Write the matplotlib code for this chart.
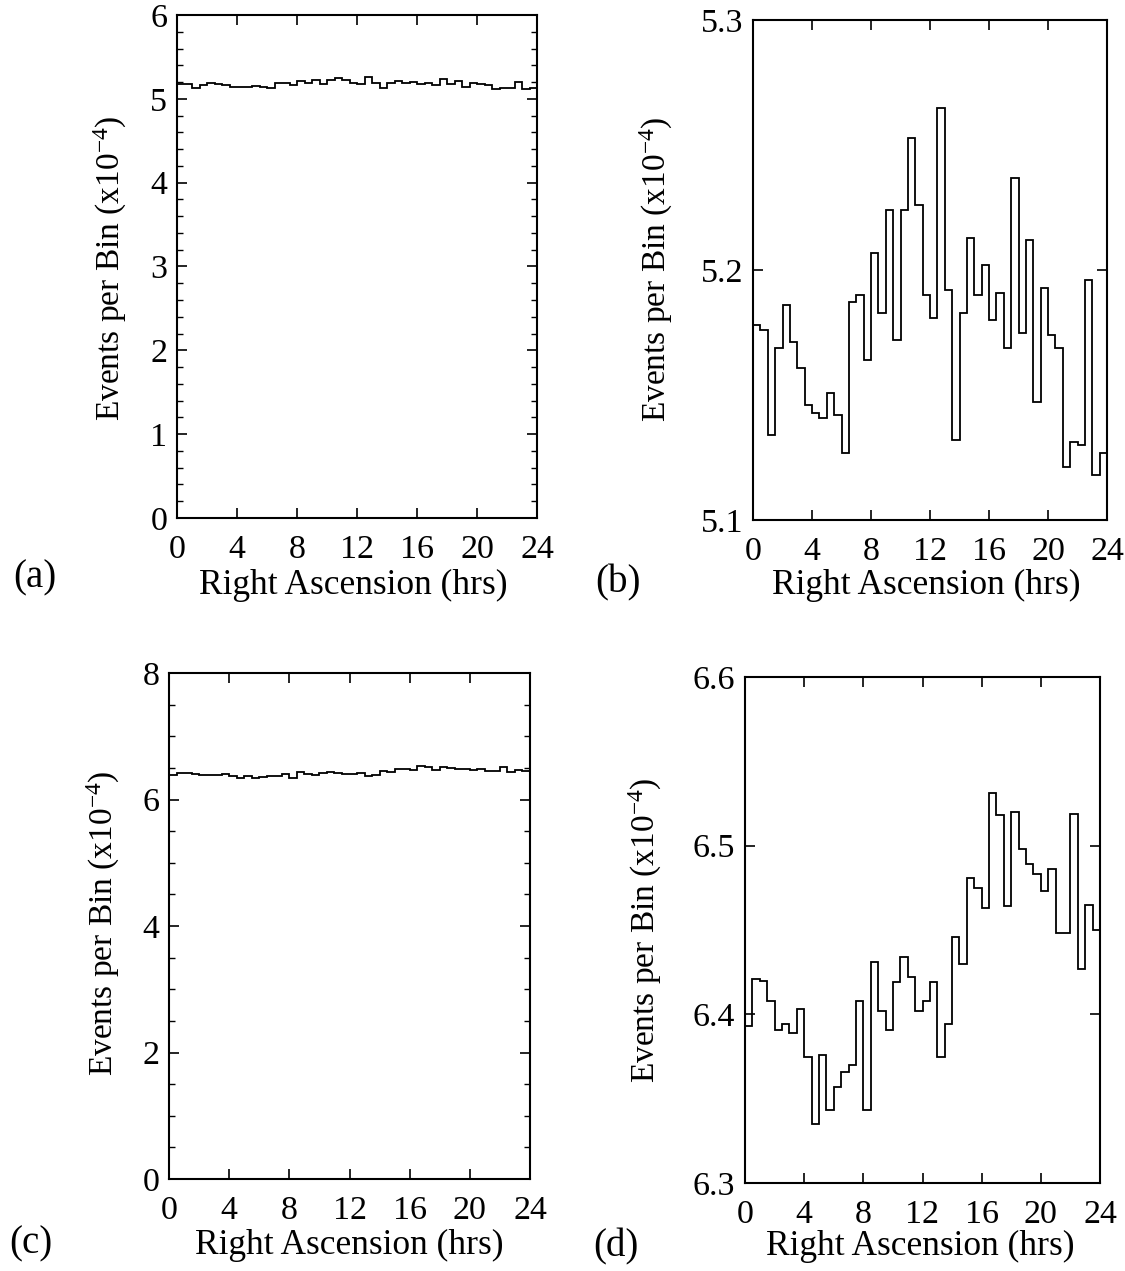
import numpy as np
import matplotlib
matplotlib.use("Agg")
from matplotlib import pyplot as plt
from matplotlib.ticker import MultipleLocator

plt.rcParams['font.family'] = ['Liberation Serif', 'DejaVu Serif']
plt.rcParams['mathtext.fontset'] = 'custom'
plt.rcParams['mathtext.rm'] = 'Liberation Serif'
plt.rcParams['mathtext.it'] = 'Liberation Serif:italic'

# 48 bins of half an hour in right ascension
ra_edges = np.arange(0, 24.5, 0.5)

# events per bin (x1e-4) (b) and (d)
events_ab = [5.178, 5.176, 5.134, 5.169, 5.186, 5.171, 5.161, 5.146, 5.143, 5.141, 5.151, 5.142,
             5.127, 5.187, 5.190, 5.164, 5.207, 5.183, 5.224, 5.172, 5.224, 5.253, 5.226, 5.190,
             5.181, 5.265, 5.192, 5.132, 5.183, 5.213, 5.190, 5.202, 5.180, 5.191, 5.169, 5.237,
             5.175, 5.212, 5.147, 5.193, 5.174, 5.169, 5.121, 5.131, 5.130, 5.196, 5.118, 5.127]
events_cd = [6.393, 6.421, 6.420, 6.408, 6.391, 6.394, 6.389, 6.403, 6.375, 6.335, 6.376, 6.343,
             6.357, 6.366, 6.370, 6.408, 6.343, 6.431, 6.402, 6.391, 6.419, 6.434, 6.422, 6.402,
             6.408, 6.419, 6.375, 6.394, 6.446, 6.430, 6.481, 6.475, 6.463, 6.531, 6.518, 6.464,
             6.520, 6.498, 6.489, 6.483, 6.473, 6.486, 6.448, 6.448, 6.519, 6.427, 6.465, 6.450]

x_ticks = [0, 4, 8, 12, 16, 20, 24]
xlabel = "Right Ascension (hrs)"
ylabel = r"Events per Bin (x10$^{\mathrm{-4}}$)"

W, H = 1125, 1271
fig = plt.figure(figsize=(W / 100, H / 100), dpi=100)


def box(l, r, t, b):
    return [l / W, 1 - b / H, (r - l) / W, (b - t) / H]


def px(x, y):
    return x / W, 1 - y / H


def panel(rect, vals, ylim, ymajor, yminor, yfmt):
    ax = fig.add_axes(rect)
    ax.stairs(vals, ra_edges, color='black', lw=1.3, baseline=None)
    ax.set_xlim(0, 24)
    ax.set_ylim(*ylim)
    ax.set_xticks(x_ticks)
    ax.yaxis.set_major_locator(MultipleLocator(ymajor))
    if yminor:
        ax.yaxis.set_minor_locator(MultipleLocator(yminor))
    ax.yaxis.set_major_formatter(yfmt)
    ax.tick_params(which='both', direction='in', top=True, right=True, labelsize=24.5)
    ax.tick_params(which='major', length=7, width=1.2)
    ax.tick_params(which='minor', length=4, width=1.0)
    ax.tick_params(axis='x', pad=12)
    ax.tick_params(axis='y', pad=7)
    for s in ax.spines.values():
        s.set_linewidth(1.5)
    return ax


panel(box(177, 537, 15, 518), events_ab, (0, 6), 1, 0.2, '{x:.0f}')
panel(box(753, 1107, 20, 520), events_ab, (5.1, 5.3), 0.1, None, '{x:.1f}')
panel(box(169, 530, 673, 1179), events_cd, (0, 8), 2, 0.5, '{x:.0f}')
panel(box(745, 1100, 677, 1183), events_cd, (6.3, 6.6), 0.1, None, '{x:.1f}')

# axis titles and panel letters
for (x, y) in [(353, 585), (926, 585), (349, 1245), (920, 1246)]:
    fig.text(*px(x, y), xlabel, fontsize=25.5, ha='center', va='center')
for (x, y) in [(110, 268), (656, 269), (103, 923), (645, 930)]:
    fig.text(*px(x, y), ylabel, fontsize=24, ha='center', va='center', rotation=90)
for lab, (x, y) in zip(['(a)', '(b)', '(c)', '(d)'],
                       [(35, 578), (618, 583), (31, 1244), (616, 1247)]):
    fig.text(*px(x, y), lab, fontsize=28, ha='center', va='center')

fig.savefig('out.png', dpi=100)
